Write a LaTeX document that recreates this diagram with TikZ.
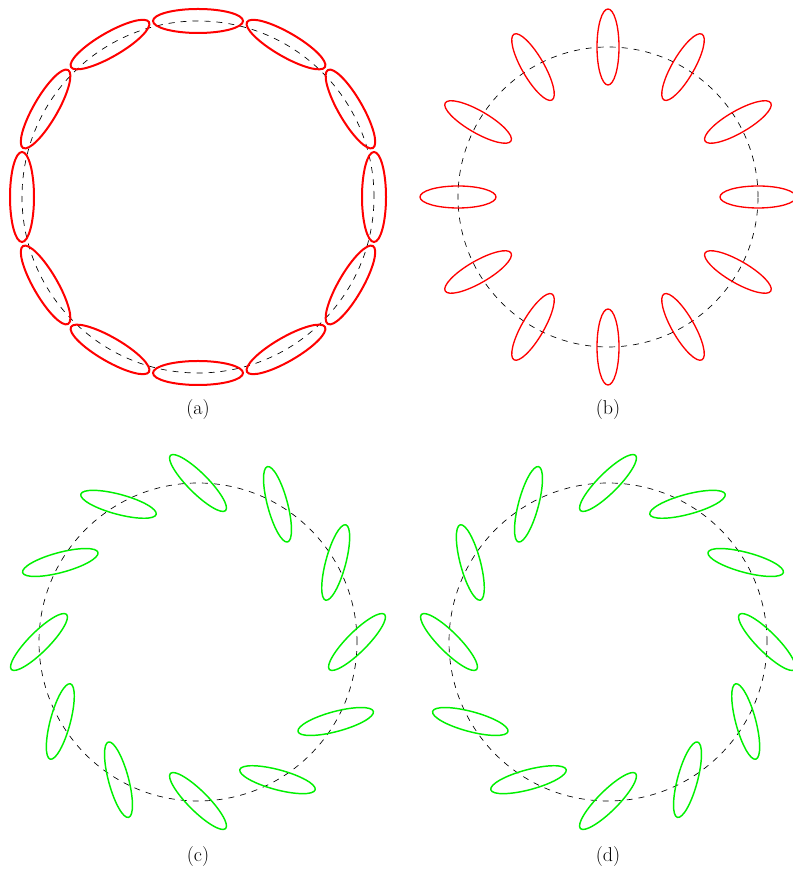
\documentclass[tikz,border=0pt]{standalone}
\usepackage{tikz}
\definecolor{limegr}{RGB}{0,240,0}
\tikzset{
  guide/.style={draw=black, line width=0.5pt, dash pattern=on 4.5pt off 4.5pt},
  redell/.style={draw=red, line width=1.5pt},
  thinred/.style={draw=red, line width=1pt},
  grnell/.style={draw=limegr, line width=1.1pt},
  panellbl/.style={font=\fontsize{15}{18}\selectfont, inner sep=1pt}
}
\begin{document}
\begin{tikzpicture}[x=0.75pt, y=0.75pt]
\useasboundingbox (0,0) rectangle (792,873);
% (a) tangential ring
\begin{scope}[shift={(198,676)}]
  \draw[guide] (0,0) circle (176);
  \foreach \a in {0,30,...,330}
    \draw[redell, shift={(\a:176)}, rotate=\a+90] (0,0) ellipse (45 and 12);
\end{scope}
% (b) radial ring
\begin{scope}[shift={(608,676)}]
  \draw[guide] (0,0) circle (150);
  \foreach \a in {0,30,...,330}
    \draw[thinred, shift={(\a:150)}, rotate=\a] (0,0) ellipse (38 and 11);
\end{scope}
% (c) tilted +45
\begin{scope}[shift={(198,231)}]
  \draw[guide] (0,0) circle (159);
  \foreach \a in {0,30,...,330}
    \draw[grnell, shift={(\a:159)}, rotate=\a+45] (0,0) ellipse (39 and 10);
\end{scope}
% (d) tilted -45
\begin{scope}[shift={(608,231)}]
  \draw[guide] (0,0) circle (159);
  \foreach \a in {0,30,...,330}
    \draw[grnell, shift={(\a:159)}, rotate=\a-45] (0,0) ellipse (39 and 10);
\end{scope}
\node[panellbl] (lbla) at (198,463) {(a)};
\node[panellbl] (lblb) at (608,463) {(b)};
\node[panellbl] (lblc) at (198,16) {(c)};
\node[panellbl] (lbld) at (608,16) {(d)};
\end{tikzpicture}
\end{document}
